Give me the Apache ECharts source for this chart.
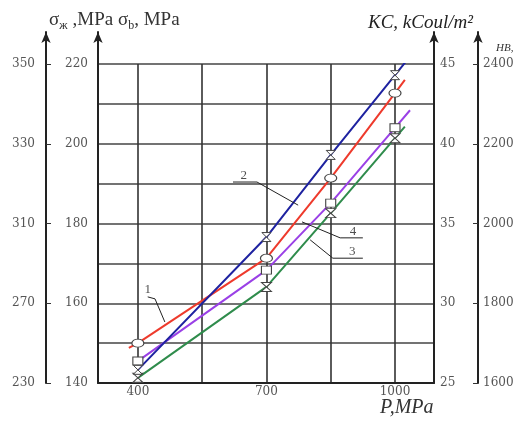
<!DOCTYPE html>
<html><head><meta charset="utf-8">
<script src="https://cdn.jsdelivr.net/npm/echarts@6/dist/echarts.min.js"></script>
<style>html,body{margin:0;padding:0;background:#fff}#c{width:522px;height:424px}</style>
</head><body><div id="c"></div>
<script>
// ---- data ----
const pressure = [400, 700, 850, 1000];          // P, MPa (marker positions)
const xTickLabels = [400, 700, 1000];
const xGridValues = [400, 550, 700, 850, 1000];
const sigmaKLabels = ['230', '270', '310', '330', '350'];
const sigmaBTicks = [140, 160, 180, 200, 220];
const kcTicks = [25, 30, 35, 40, 45];
const hbTicks = [1600, 1800, 2000, 2200, 2400];

// curves (values in sigma_b units, MPa)
const curve1P = [379, 400, 700, 850, 1000, 1023];
const curve1V = [148.8, 150.0, 171.3, 191.4, 212.7, 216.0];   // 1 red
const curve2P = [400, 700, 850, 1000, 1032];
const curve2V = [143.3, 176.6, 197.2, 217.2, 221.5];          // 2 blue
const curve3P = [400, 700, 850, 1000, 1023];
const curve3V = [141.3, 164.1, 182.6, 201.4, 204.3];          // 3 green
const curve4P = [400, 700, 850, 1000, 1035];
const curve4V = [145.5, 168.3, 185.1, 204.0, 208.4];          // 4 purple

// annotation leaders & labels
const leader1 = [[423, 161.6], [440, 161.1], [463, 155.3]];
const leader2 = [[622, 190.4], [678, 190.4], [774, 184.6]];
const leader3 = [[925, 171.3], [855, 171.3], [802, 175.9]];
const leader4 = [[925, 176.4], [872, 176.4], [783, 180.4]];
const annotationText = ['1', '2', '3', '4'];
const annotationAt = [[423, 163.4], [647, 192.0], [900, 173.0], [902, 178.0]];

// ---- chart ----
const hourglass = 'path://M0,0L10,0L0,10L10,10Z';
const lblFont = { fontFamily: 'DejaVu Serif', fontSize: 12, color: '#555' };

function pts(P, V) {
  return P.map((p, i) => pressure.includes(p) ? [p, V[i]] : { value: [p, V[i]], symbol: 'none' });
}
function curve(P, V, color, symbol, size) {
  return {
    type: 'line', xAxisIndex: 0, yAxisIndex: 0, data: pts(P, V),
    symbol: symbol, symbolSize: size, showSymbol: true,
    lineStyle: { color: color, width: 2 },
    itemStyle: { color: '#fff', borderColor: '#444', borderWidth: 1 },
    z: 3, silent: true, animation: false
  };
}
function leader(d) {
  return { type: 'line', xAxisIndex: 0, yAxisIndex: 0, data: d, symbol: 'none',
    lineStyle: { color: '#222', width: 1 }, silent: true, animation: false, z: 4 };
}

const chart = echarts.init(document.getElementById('c'), null, { renderer: 'canvas' });
chart.setOption({
  animation: false,
  backgroundColor: '#fff',
  title: [
    { text: '{a|σ}{s|ж} {a|,MPa σ}{s|b}{a|, MPa}', left: 44, top: 4,
      textStyle: { fontWeight: 'normal', rich: {
        a: { fontFamily: 'Liberation Serif', fontWeight: 'normal', fontSize: 19, color: '#333', lineHeight: 23 },
        s: { fontFamily: 'Liberation Serif', fontWeight: 'normal', fontSize: 12, color: '#333', lineHeight: 23, verticalAlign: 'bottom', padding: [6, 0, 0, 0] }
      } } },
    { text: 'KC, kCoul/m²', left: 363, top: 8,
      textStyle: { fontFamily: 'Liberation Serif', fontStyle: 'italic', fontWeight: 'normal', fontSize: 19, color: '#222' } },
    { text: 'HB,', left: 491, top: 38,
      textStyle: { fontFamily: 'Liberation Serif', fontStyle: 'italic', fontWeight: 'normal', fontSize: 11, color: '#333' } },
    { text: 'P,MPa', left: 375, top: 393,
      textStyle: { fontFamily: 'Liberation Serif', fontStyle: 'italic', fontWeight: 'normal', fontSize: 20, color: '#333' } }
  ],
  grid: [
    { left: 98, top: 64, width: 336, height: 319 },
    { left: 98, top: 32.1, width: 336, height: 350.9 }
  ],
  xAxis: [
    { type: 'value', gridIndex: 0, min: 307, max: 1091,
      axisLine: { show: true, onZero: false, lineStyle: { color: '#222', width: 2 } },
      axisTick: { show: false, customValues: xGridValues },
      axisLabel: { show: true, customValues: xTickLabels, margin: 3, formatter: v => String(v), ...lblFont },
      splitLine: { show: true, lineStyle: { color: '#333', width: 1.6 } } },
    { type: 'value', gridIndex: 1, min: 307, max: 1091, show: false }
  ],
  yAxis: [
    // data axis (sigma_b) inside plot grid: only horizontal gridlines
    { type: 'value', gridIndex: 0, min: 140, max: 220, interval: 10,
      axisLine: { show: false }, axisTick: { show: false }, axisLabel: { show: false },
      splitLine: { show: true, lineStyle: { color: '#444', width: 1.6 } } },
    // sigma_b axis with arrow
    { type: 'value', gridIndex: 1, position: 'left', offset: 0, min: 140, max: 228, interval: 20,
      axisLine: { show: true, lineStyle: { color: '#222', width: 2 }, symbol: ['none', 'arrow'], symbolSize: [7, 11] },
      axisTick: { show: false },
      axisLabel: { show: true, margin: 10, customValues: sigmaBTicks,
        formatter: v => sigmaBTicks.includes(v) ? String(v) : '', ...lblFont },
      splitLine: { show: false } },
    // sigma_k axis (outer left)
    { type: 'value', gridIndex: 1, position: 'left', offset: 52, min: 0, max: 88, interval: 20,
      axisLine: { show: true, lineStyle: { color: '#222', width: 2 }, symbol: ['none', 'arrow'], symbolSize: [7, 11] },
      axisTick: { show: true, inside: true, length: 5, customValues: [0, 20, 40, 60, 80], lineStyle: { color: '#333', width: 1 } },
      axisLabel: { show: true, margin: 11, customValues: [0, 20, 40, 60, 80],
        formatter: v => (v % 20 === 0 && v <= 80) ? sigmaKLabels[v / 20] : '', ...lblFont },
      splitLine: { show: false } },
    // KC axis
    { type: 'value', gridIndex: 1, position: 'right', offset: 0, min: 25, max: 47, interval: 5,
      axisLine: { show: true, lineStyle: { color: '#222', width: 2 }, symbol: ['none', 'arrow'], symbolSize: [7, 11] },
      axisTick: { show: false },
      axisLabel: { show: true, margin: 6, customValues: kcTicks,
        formatter: v => kcTicks.includes(v) ? String(v) : '', ...lblFont },
      splitLine: { show: false } },
    // HB axis
    { type: 'value', gridIndex: 1, position: 'right', offset: 44, min: 1600, max: 2480, interval: 200,
      axisLine: { show: true, lineStyle: { color: '#222', width: 2 }, symbol: ['none', 'arrow'], symbolSize: [7, 11] },
      axisTick: { show: true, inside: true, length: 5, customValues: hbTicks, lineStyle: { color: '#333', width: 1 } },
      axisLabel: { show: true, margin: 5, customValues: hbTicks,
        formatter: v => hbTicks.includes(v) ? String(v) : '', ...lblFont },
      splitLine: { show: false } }
  ],
  series: [
    curve(curve1P, curve1V, '#ee3a2c', 'circle', [12, 8]),
    curve(curve4P, curve4V, '#9a40e6', 'rect', [10, 8]),
    curve(curve3P, curve3V, '#2f8c4c', hourglass, [10, 9]),
    curve(curve2P, curve2V, '#1e22a0', hourglass, [9, 9]),
    leader(leader1), leader(leader2), leader(leader3), leader(leader4),
    { type: 'scatter', xAxisIndex: 0, yAxisIndex: 0, symbolSize: 0, silent: true, z: 5,
      data: annotationAt.map((p, i) => ({ value: p, name: annotationText[i] })),
      label: { show: true, position: 'inside', formatter: p => p.name,
        fontFamily: 'Liberation Serif', fontSize: 13, color: '#222' } }
  ]
});
</script></body></html>
